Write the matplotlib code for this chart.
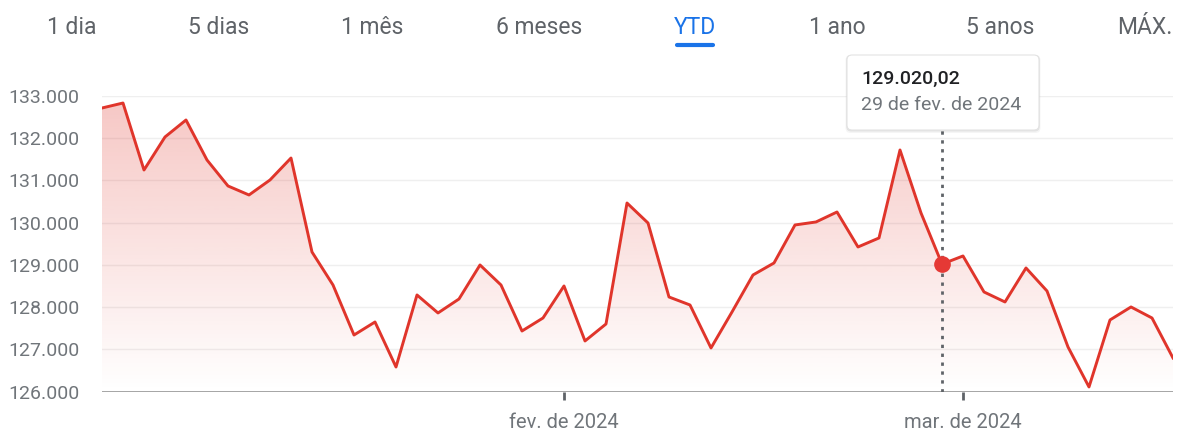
import numpy as np
import matplotlib.pyplot as plt
import matplotlib.colors as mcolors
from matplotlib.patches import FancyBboxPatch
from matplotlib.transforms import IdentityTransform

plt.rcParams['font.family'] = ['Roboto', 'DejaVu Sans']

# Ibovespa YTD closes (2 jan .. 15 mar 2024)
closes = [132716, 132834, 131248, 132030, 132432, 131485, 130870, 130657, 131012, 131532,
          129307, 128526, 127342, 127650, 126585, 128290, 127864, 128195, 129000, 128526,
          127437, 127745, 128503, 127201, 127603, 130467, 129994, 128242, 128053, 127035,
          127887, 128763, 129047, 129947, 130018, 130254, 129426, 129639, 131722, 130231,
          129020.02, 129213, 128361, 128124, 128929, 128384, 127059, 126112, 127698, 128006,
          127745, 126798]
month_idx = [22, 41]
month_labels = ['fev. de 2024', 'mar. de 2024']
y_ticks = [126000, 127000, 128000, 129000, 130000, 131000, 132000, 133000]
tabs = ['1 dia', '5 dias', '1 mês', '6 meses', 'YTD', '1 ano', '5 anos', 'MÁX.']
tab_x = [72, 219, 372, 539, 695, 837, 1000, 1145]
active_tab = 'YTD'
hover_idx = 40
hover_value = '129.020,02'
hover_date = '29 de fev. de 2024'

W, H = 1179, 432
red = '#e0352b'
gray = '#70757a'

fig = plt.figure(figsize=(W / 100, H / 100), dpi=100)


def fx(x):
    return x / W


def fy(y):
    return 1 - y / H


ax = fig.add_axes([fx(102), fy(391.7), fx(1173) - fx(102), fy(96) - fy(391.7)])
x = np.arange(len(closes))

# gradient fill under the line
poly = ax.fill_between(x, closes, y_ticks[0], color='none', lw=0)
grad = np.zeros((256, 1, 4))
grad[..., :3] = mcolors.to_rgb(red)
grad[..., 3] = np.linspace(0.28, 0.0, 256)[:, None]
im = ax.imshow(grad, aspect='auto', origin='upper', zorder=1,
               extent=[x[0], x[-1], y_ticks[0], y_ticks[-1]])
im.set_clip_path(poly.get_paths()[0], transform=ax.transData)

ax.plot(x, closes, color=red, lw=2.1, zorder=3)

ax.set_xlim(x[0], x[-1])
ax.set_ylim(y_ticks[0], y_ticks[-1])
for s in ax.spines.values():
    s.set_visible(False)

ax.set_yticks(y_ticks, [f'{v:,}'.replace(',', '.') for v in y_ticks])
ax.yaxis.grid(True, color='#efefef', lw=1)
ax.set_axisbelow(True)
ax.axhline(y_ticks[0], color='#9e9e9e', lw=1.3, zorder=2)
ax.tick_params(axis='y', length=0, pad=16, labelsize=14, labelcolor=gray)

ax.set_xticks(month_idx, month_labels)
ax.tick_params(axis='x', length=6, width=2, color='#5f6368', labelcolor=gray,
               labelsize=14.5, pad=9)

# hover marker
ax.axvline(hover_idx, ymin=0, ymax=(391.7 - 130) / (391.7 - 96), color='#5f6368',
           lw=2, ls=(0, (1.2, 2)), zorder=4)
ax.plot(hover_idx, closes[hover_idx], 'o', ms=11, color='#e53935', zorder=5)

# tooltip (pixel coords, origin bottom-left)
bx0, bx1, by0, by1 = 847, 1039, 55, 130
for off, a in [(3, 0.04), (1.5, 0.07)]:
    sh = FancyBboxPatch((bx0 - off / 2, H - by1 - off), bx1 - bx0 + off, by1 - by0 + off,
                        boxstyle='round,pad=0,rounding_size=5', transform=IdentityTransform(),
                        fc='black', ec='none', alpha=a)
    fig.add_artist(sh)
box = FancyBboxPatch((bx0, H - by1), bx1 - bx0, by1 - by0,
                     boxstyle='round,pad=0,rounding_size=5', transform=IdentityTransform(),
                     fc='white', ec='#e3e3e3', lw=0.8)
fig.add_artist(box)
fig.text(fx(861), fy(79), hover_value, ha='left', va='center', fontsize=14,
         color='#202124', fontweight='medium')
fig.text(fx(861), fy(105), hover_date, ha='left', va='center', fontsize=14, color=gray)

# range tabs
for t, tx in zip(tabs, tab_x):
    c = '#1a73e8' if t == active_tab else '#5f6368'
    fig.text(fx(tx), fy(28), t, ha='center', va='center', fontsize=16.5, color=c)
    if t == active_tab:
        fig.add_artist(plt.Line2D([fx(tx - 18), fx(tx + 18)], [fy(45), fy(45)],
                                  color=c, lw=3, solid_capstyle='round'))

fig.savefig('out.png', dpi=100)
